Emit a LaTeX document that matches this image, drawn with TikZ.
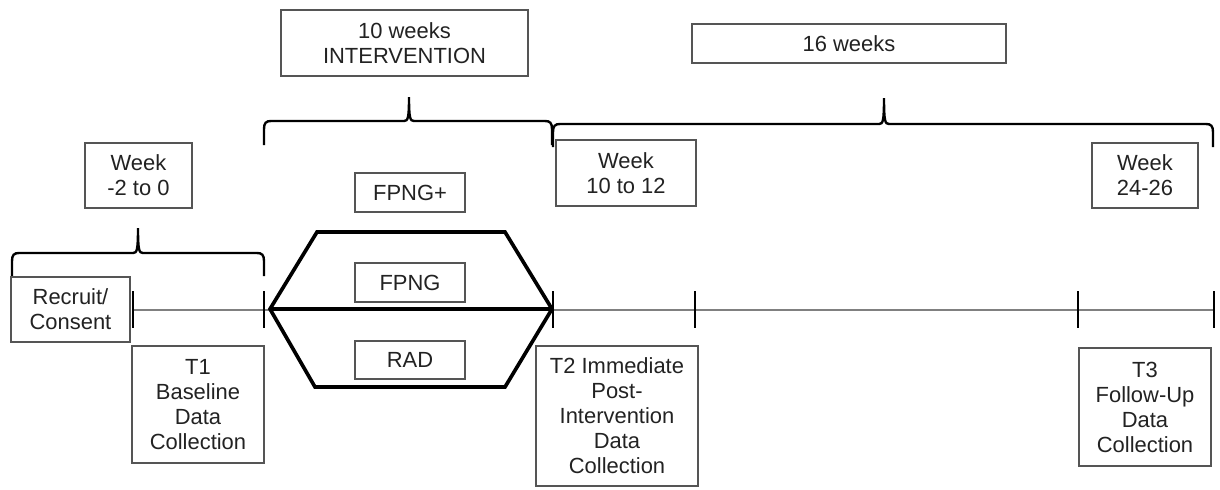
\documentclass[tikz,border=0pt]{standalone}
\usepackage{fontspec}
\setmainfont{Liberation Sans}
\definecolor{boxgray}{HTML}{555555}
\definecolor{textgray}{HTML}{222222}
\definecolor{linegray}{HTML}{808080}
\tikzset{
  box/.style={draw=boxgray, line width=0.9pt, align=center, inner sep=0pt, text=textgray,
    font=\fontsize{15.6}{17.8}\selectfont},
  tickmark/.style={line width=1.7pt, black},
  tline/.style={line width=1pt, linegray},
  hexa/.style={line width=2.6pt, black, line join=miter},
  bracestyle/.style={line width=1.7pt, black},
}
\newcommand{\tlbrace}[6]{%
  \draw[bracestyle] (#1,#5) -- (#1,#4+8) .. controls (#1,#4+2) and (#1+2,#4) .. (#1+7,#4)
    -- (#3-5,#4) .. controls (#3-1,#4) and (#3,#4-3) .. (#3,#6)
    .. controls (#3,#4-3) and (#3+1,#4) .. (#3+5,#4)
    -- (#2-7,#4) .. controls (#2-2,#4) and (#2,#4+2) .. (#2,#4+8) -- (#2,#5);}
\begin{document}
\begin{tikzpicture}[x=0.025cm,y=-0.025cm]
\useasboundingbox (0,0) rectangle (1220,489);

% timeline
\coordinate (L0) at (133,310);
\coordinate (L1) at (264,310);
\coordinate (L2) at (553,310);
\coordinate (L3) at (695,310);
\coordinate (L4) at (1078,310);
\coordinate (L5) at (1214,310);
\draw[tline] (L0) -- (L5);
\foreach \p in {L0,L1,L2,L3,L4,L5}
  \draw[tickmark] ([yshift=0.47cm]\p) -- ([yshift=-0.45cm]\p);

% hexagon
\coordinate (H0) at (270,309);
\coordinate (H1) at (317,232);
\coordinate (H2) at (505,232);
\coordinate (H3) at (552,309);
\coordinate (H4) at (505,387);
\coordinate (H5) at (315,387);
\draw[hexa] (H0) -- (H1) -- (H2) -- (H3) -- (H4) -- (H5) -- cycle;
\draw[hexa] (H0) -- (H3);

% braces
\tlbrace{12}{264}{138}{253}{276}{228}
\tlbrace{264}{552}{409}{121}{145}{97}
\tlbrace{553}{1213}{884}{124}{147}{98}

% boxes
\node[box, minimum width=6.175cm, minimum height=1.65cm] (intv) at (404.5,43) {10 weeks\\INTERVENTION};
\node[box, minimum width=7.85cm, minimum height=0.975cm] (w16) at (849,43.5) {16 weeks};
\node[box, minimum width=2.675cm, minimum height=1.625cm] (wkA) at (138.5,175.5) {Week\\-2 to 0};
\node[box, minimum width=2.75cm, minimum height=0.975cm] (fpngp) at (410,192.5) {FPNG+};
\node[box, minimum width=3.5cm, minimum height=1.65cm] (wkB) at (626,173) {Week\\10 to 12};
\node[box, minimum width=2.65cm, minimum height=1.625cm] (wkC) at (1145,175.5) {Week\\24-26};
\node[box, minimum width=2.975cm, minimum height=1.625cm, fill=white] (rec) at (70.5,309.5) {Recruit/\\Consent};
\node[box, minimum width=2.75cm, minimum height=0.975cm, fill=white] (fpng) at (410,282.5) {FPNG};
\node[box, minimum width=2.75cm, minimum height=0.95cm, fill=white] (rad) at (410,360) {RAD};
\node[box, minimum width=3.3cm, minimum height=2.925cm] (t1) at (198,404.5) {T1\\Baseline\\Data\\Collection};
\node[box, minimum width=4.05cm, minimum height=3.5cm] (t2) at (617,416) {T2 Immediate\\Post-\\Intervention\\Data\\Collection};
\node[box, minimum width=3.3cm, minimum height=2.95cm] (t3) at (1145,407) {T3\\Follow-Up\\Data\\Collection};
\end{tikzpicture}
\end{document}
